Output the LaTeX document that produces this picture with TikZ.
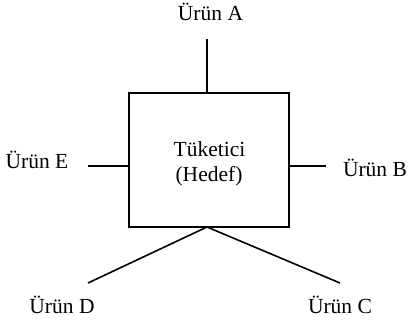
\documentclass[tikz,border=0pt]{standalone}
\usepackage{fontspec}
\setmainfont{Liberation Serif}
\begin{document}
\begin{tikzpicture}[x=1bp,y=-1bp,
  lbl/.style={anchor=base,inner sep=0pt,font=\fontsize{21.5bp}{25bp}\selectfont},
  link/.style={line width=1.6bp},
  boxed/.style={draw,line width=1.6bp,minimum width=160bp,minimum height=134bp,inner sep=0pt}]
\useasboundingbox (0,0) rectangle (408,323);
\node[boxed] (box) at (209,160) {};
\node[lbl] (t1) at (209.5,156.5) {Tüketici};
\node[lbl] (t2) at (209,181.5) {(Hedef)};
\node[lbl] (A) at (210.5,20) {Ürün A};
\node[lbl] (E) at (37,168) {Ürün E};
\node[lbl] (B) at (375,176) {Ürün B};
\node[lbl] (D) at (62,313) {Ürün D};
\node[lbl] (C) at (340,313) {Ürün C};
\coordinate (aEnd) at (207,39);
\coordinate (aBox) at (207,93);
\coordinate (eEnd) at (88,166);
\coordinate (bEnd) at (326,166);
\coordinate (apex) at (207,227);
\coordinate (dEnd) at (88,283);
\coordinate (cEnd) at (340,283);
\draw[link] (aEnd) -- (aBox);
\draw[link] (eEnd) -- (box.west |- eEnd);
\draw[link] (box.east |- bEnd) -- (bEnd);
\draw[link] (dEnd) -- (apex) -- (cEnd);
\end{tikzpicture}
\end{document}
